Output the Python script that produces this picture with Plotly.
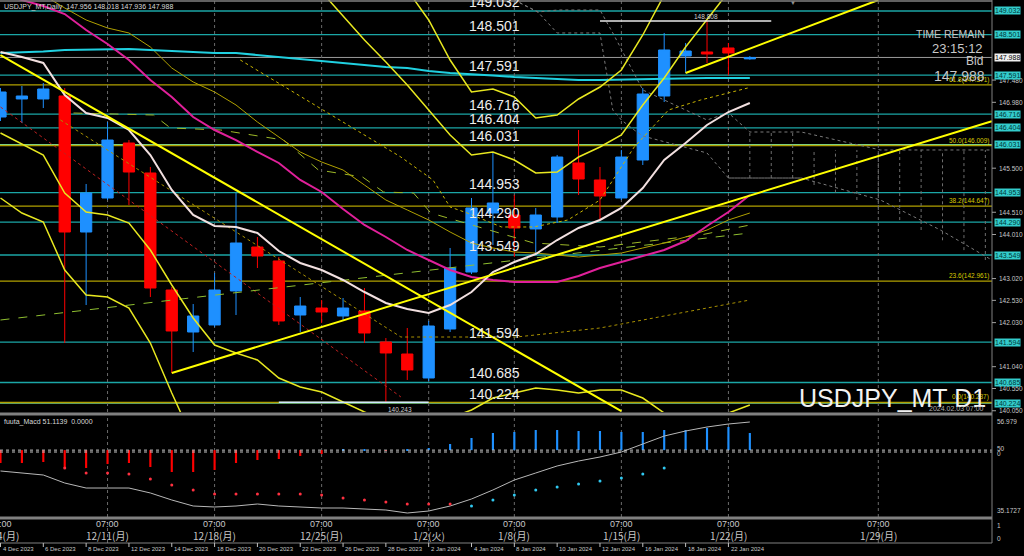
import plotly.graph_objects as go

# ---------------- data ----------------
bar_dates = ["4 Dec 2023", "5 Dec 2023", "6 Dec 2023", "7 Dec 2023", "8 Dec 2023",
             "11 Dec 2023", "12 Dec 2023", "13 Dec 2023", "14 Dec 2023", "15 Dec 2023",
             "18 Dec 2023", "19 Dec 2023", "20 Dec 2023", "21 Dec 2023", "22 Dec 2023",
             "25 Dec 2023", "26 Dec 2023", "27 Dec 2023", "28 Dec 2023", "29 Dec 2023",
             "2 Jan 2024", "3 Jan 2024", "4 Jan 2024", "5 Jan 2024", "8 Jan 2024",
             "9 Jan 2024", "10 Jan 2024", "11 Jan 2024", "12 Jan 2024", "15 Jan 2024",
             "16 Jan 2024", "17 Jan 2024", "18 Jan 2024", "19 Jan 2024", "22 Jan 2024",
             "23 Jan 2024"]

opens = [146.650, 147.055, 147.055, 147.122, 144.066, 144.830, 146.066, 145.392, 142.763, 141.819,
         141.977, 142.741, 143.729, 143.415, 142.201, 142.358, 142.179, 142.291, 141.595, 141.325,
         140.786, 141.887, 143.167, 144.493, 144.448, 144.134, 144.403, 145.617, 145.235, 144.830,
         145.684, 147.122, 148.021, 148.111, 148.201, 147.956]
highs = [147.302, 147.347, 147.414, 147.302, 145.145, 146.538, 146.133, 145.527, 142.830, 142.448,
         143.145, 144.942, 143.954, 143.504, 142.606, 142.538, 142.583, 142.808, 141.684, 141.909,
         142.067, 143.707, 144.830, 145.841, 144.897, 144.606, 145.797, 146.358, 145.527, 145.909,
         147.302, 148.538, 148.313, 148.808, 148.313, 148.018]
lows = [146.560, 146.515, 146.852, 141.572, 142.426, 144.785, 144.673, 142.606, 140.898, 141.370,
        141.932, 142.201, 143.257, 141.977, 141.819, 142.022, 142.089, 141.572, 140.243, 140.741,
        140.718, 141.819, 143.122, 143.774, 143.504, 143.549, 144.268, 144.897, 144.313, 144.785,
        145.572, 146.987, 147.639, 147.863, 147.594, 147.936]
closes = [147.212, 147.122, 147.279, 144.066, 144.942, 146.133, 145.414, 142.808, 141.842, 142.179,
          142.763, 143.819, 143.527, 142.067, 142.403, 142.269, 142.358, 141.797, 141.348, 140.966,
          141.954, 143.257, 144.606, 144.718, 144.156, 144.448, 145.751, 145.257, 144.875, 145.751,
          147.167, 148.156, 148.133, 148.066, 148.088, 147.988]

ma_long = [148.088, 148.099, 148.122, 148.156, 148.167, 148.167, 148.178, 148.156, 148.133, 148.099,
           148.088, 148.088, 148.043, 147.998, 147.953, 147.908, 147.863, 147.818, 147.774, 147.751,
           147.684, 147.639, 147.616, 147.583, 147.549, 147.526, 147.504, 147.481, 147.481, 147.493,
           147.504, 147.516, 147.526, 147.526, 147.526, 147.526]
ma_mid = [149.414, 149.279, 149.144, 148.964, 148.605, 148.290, 147.931, 147.481, 147.099, 146.650,
          146.358, 146.133, 145.864, 145.617, 145.235, 144.965, 144.583, 144.224, 143.954, 143.662,
          143.437, 143.212, 143.055, 142.988, 142.943, 142.943, 142.943, 143.078, 143.257, 143.392,
          143.527, 143.662, 143.864, 144.201, 144.516, 144.897]
ma_fast = [148.111, 147.998, 147.864, 147.144, 146.740, 146.628, 146.358, 145.796, 145.010, 144.448,
           144.201, 144.178, 144.044, 143.639, 143.370, 143.212, 142.988, 142.718, 142.471, 142.336,
           142.246, 142.426, 142.718, 143.167, 143.392, 143.572, 143.886, 144.156, 144.336, 144.606,
           145.055, 145.684, 146.066, 146.470, 146.762, 146.965]
bb_up3 = [None] * 19 + [149.504, 148.830, 147.931, 147.212, 147.279, 147.099, 146.628, 146.695,
                        147.055, 147.324, 147.706, 148.493, 149.391, None, None, None, None]
bb_up2 = [None] * 15 + [149.459, 148.920, 148.380, 147.886, 147.369, 146.807, 146.246, 145.796,
                        145.864, 145.684, 145.392, 145.414, 145.751, 145.976, 146.246, 146.920,
                        147.526, 148.223, 148.830, 149.459, None]
bb_dn2 = [146.291, 146.044, 145.796, 144.942, 144.516, 144.448, 144.268, 143.662, 142.875, 142.134,
          141.527, 141.348, 141.190, 140.786, 140.583, 140.471, 140.246, 140.022, 139.842, 139.730,
          139.662, 139.887, 140.067, 140.336, 140.449, 140.561, 140.516, 140.449, 140.516, 140.516,
          140.336, 139.999, 139.730, 139.730, 139.999, 140.179]
bb_dn3 = [144.830, 144.493, 144.291, 143.212, 142.651, 142.606, 142.358, 141.572, 140.449, 139.393] + [None] * 26
olive_ma = [None, None, 149.391, 149.099, 148.830, 148.650, 148.538, 148.223, 147.751, 147.437,
            147.212, 146.920, 146.538, 146.201, 145.864, 145.639, 145.459, 145.122, 144.785, 144.561,
            144.336, 144.066, 143.819, 143.707, 143.617, 143.594, 143.549, 143.504, 143.549, 143.594,
            143.707, 143.819, 143.954, 144.111, 144.336, 144.493]

# trend lines: (bar index, price) end points
trend_down = [(0, 148.043), (29, 140.044)]
trend_up = [(8, 140.898), (46.3, 146.554)]
trend_up_short = [(32, 147.639), (41, 149.279)]
red_dotted = [(0, 146.875), (18.7, 140.360)]
green_dashed = [(0, 142.089), (35, 144.044)]
olive_dotted_x = [2.8, 18.7, 24.1, 28, 35]
olive_dotted_y = [146.583, 141.707, 141.707, 141.909, 142.538]
yellow_dotted_x = [11.2, 18.7, 20.2, 21.0, 21.8, 23.4, 24.9, 26.5, 28.0, 29.6, 31.2, 32.7, 34.9]
yellow_dotted_y = [147.931, 145.751, 145.235, 144.628, 144.493, 144.179, 144.179, 144.336, 144.785,
                   145.976, 146.807, 147.032, 147.302]
step_dashed_x = [3.41, 7.15, 7.94, 10.28, 13.22, 14.85, 16.91, 17.89, 19.29, 20.1, 24.9, 28.0, 32.7, 35.0]
step_dashed_y = [146.740, 146.695, 146.403, 146.358, 146.133, 145.459, 145.302, 144.965, 144.942,
                 144.493, 143.819, 143.729, 143.999, 144.223]
# Ichimoku-like gray dotted cloud outline (bar index, price)
cloud_a_x = [24.0, 25.1, 26.0, 28.0, 28.6, 29.0, 29.6, 30.0, 33.0, 34.0, 37.4]
cloud_a_y = [149.279, 149.009, 148.538, 148.538, 146.807, 146.583, 146.358, 146.223, 145.841, 145.279, 145.279]
cloud_b_x = [24.0, 25.1, 26.0, 28.0, 28.6, 30.0, 33.0, 34.0, 35.0, 37.4, 41.1, 46.3]
cloud_b_y = [149.279, 149.009, 149.054, 149.054, 148.538, 147.257, 146.583, 146.740, 146.313, 146.313,
             145.909, 145.909]
cloud_c_x = [34.0, 37.4, 41.1, 43.9, 46.3]
cloud_c_y = [145.279, 145.279, 144.785, 144.111, 143.437]
shade_x = list(range(34, 47))
shade_top = [146.740, 146.313, 146.313, 146.313, 145.909, 145.909, 145.909, 145.909, 145.909, 145.909,
             145.909, 145.909, 145.909]
shade_bot = [145.279, 145.279, 145.279, 145.279, 145.122, 144.950, 144.785, 144.560, 144.335, 144.111,
             143.880, 143.660, 143.437]

level_prices = [149.032, 148.501, 147.591, 146.716, 146.404, 146.031, 144.953, 144.290, 143.549,
                141.594, 140.685, 140.224]
level_green = [146.031, 140.224]
fib_names = ["61.8", "50.0", "38.2", "23.6", "0.0"]
fib_prices = [147.371, 146.009, 144.647, 142.961, 140.237]
axis_ticks = [147.480, 146.980, 145.500, 144.510, 144.010, 143.020, 142.530, 142.030, 141.040,
              140.550, 140.050]
bid_price = 147.988
header = "USDJPY_MT,Daily  147.956 148.018 147.936 147.988"

week_bars = [0, 5, 10, 15, 20, 24, 29, 34, 41]
week_labels = ["12/4(月)", "12/11(月)", "12/18(月)", "12/25(月)", "1/2(火)", "1/8(月)",
               "1/15(月)", "1/22(月)", "1/29(月)"]

macd_hist = [46.92, 46.92, 47.15, 45.72, 45.72, 46.68, 46.92, 45.96, 44.76, 44.76, 45.24, 46.92,
             47.63, 47.87, 48.59, 49.07, 50.27, 50.27, 49.80, 50.27, 50.51, 51.47, 52.91, 54.10,
             54.34, 54.82, 54.82, 54.58, 54.58, 54.34, 54.34, 54.82, 54.82, 55.30, 55.54, 54.10]
macd_sig_red = [None, None, None, 45.72, 44.52, 44.52, 44.28, 43.08, 41.64, 40.45, 39.49, 39.49,
                39.49, 39.49, 39.49, 39.25, 38.53, 38.05, 37.57, 37.09, 37.09, 37.09] + [None] * 14
macd_sig_blue = [None] * 22 + [36.61, 38.05, 39.25, 40.45, 41.16, 41.88, 42.60, 43.32, 44.28, 45.72,
                               None, None, None, None]
macd_line = [45.00, 44.52, 44.04, 42.12, 40.92, 40.92, 40.92, 39.73, 38.05, 36.61, 36.37, 36.61,
             37.09, 36.61, 36.37, 36.13, 36.13, 35.89, 35.65, 34.93, 35.41, 36.61, 38.29, 40.45,
             42.84, 44.52, 46.20, 47.39, 48.35, 49.55, 51.47, 53.38, 54.58, 55.54, 56.26, 56.74]

# ---------------- geometry ----------------
W, H = 1024, 556
PLOT_R = 992
BAR_PX = 21.41
XMIN = -0.023
XMAX = XMIN + PLOT_R / BAR_PX
P_TOP = 149.279
P_PER_PX = 0.022469
M_TOP = 56.979 + 5 * 0.23963
M_PER_PX = 0.23963


def pyp(px):
    return 1 - px / H


def pxp(px):
    return px / W


BLUE = "#1E90FF"
RED = "#FF0000"
TEAL = "#1BA6A6"
GREEN = "#7FD07F"
OLIVE = "#B0A000"
YELLOW = "#FFFF00"
GRAY = "#808080"
TXT = "#D8D8D8"
FONT = "Liberation Sans"

xs = list(range(len(bar_dates)))
fig = go.Figure()

shapes = []
for p in level_prices:
    c = GREEN if p in level_green else TEAL
    shapes.append(dict(type="line", xref="paper", yref="y", x0=0, x1=pxp(PLOT_R), y0=p, y1=p,
                       line=dict(color=c, width=1.3), layer="below"))
for p in fib_prices:
    shapes.append(dict(type="line", xref="paper", yref="y", x0=0, x1=pxp(PLOT_R), y0=p, y1=p,
                       line=dict(color=OLIVE, width=1.2), layer="below"))
shapes.append(dict(type="line", xref="paper", yref="y", x0=0, x1=pxp(PLOT_R), y0=bid_price, y1=bid_price,
                   line=dict(color="#9A9A9A", width=1), layer="below"))
shapes.append(dict(type="line", xref="x", yref="y", x0=28, x1=36, y0=highs[33], y1=highs[33],
                   line=dict(color="#E8E8E8", width=1.5)))
shapes.append(dict(type="line", xref="x", yref="y", x0=13, x1=20, y0=lows[18], y1=lows[18],
                   line=dict(color="#CFE8FF", width=1.5)))

for b in week_bars[1:]:
    for (a, z) in [(0, 412), (416, 517), (519, 543)]:
        shapes.append(dict(type="line", xref="x", yref="paper", x0=b, x1=b, y0=pyp(z), y1=pyp(a),
                           line=dict(color="#6A6A6A", width=1, dash="dot"), layer="below"))

for b, t, u in zip(shade_x, shade_top, shade_bot):
    shapes.append(dict(type="line", xref="x", yref="y", x0=b, x1=b, y0=u, y1=t,
                       line=dict(color="#6E6E6E", width=1, dash="dot"), layer="below"))


def seg(xv, yv, color, width, dash="solid"):
    fig.add_trace(go.Scatter(x=xv, y=yv, mode="lines", line=dict(color=color, width=width, dash=dash),
                             hoverinfo="skip", showlegend=False))


seg(cloud_a_x, cloud_a_y, "#7A7A7A", 1, "dot")
seg(cloud_b_x, cloud_b_y, "#7A7A7A", 1, "dot")
seg(cloud_c_x, cloud_c_y, "#7A7A7A", 1, "dot")
seg([p[0] for p in red_dotted], [p[1] for p in red_dotted], "#C02020", 1, "dot")
seg([p[0] for p in green_dashed], [p[1] for p in green_dashed], "#8FBF30", 1, "dash")
seg(step_dashed_x, step_dashed_y, "#9DB828", 1, "dash")
seg(olive_dotted_x, olive_dotted_y, "#A89000", 1, "dot")
seg(yellow_dotted_x, yellow_dotted_y, "#C8B400", 1, "dot")
seg(xs, olive_ma, OLIVE, 1)

seg(xs, ma_long, "#20D0E0", 2)
seg(xs, ma_mid, "#E0209A", 2)
seg(xs, ma_fast, "#F2E0E0", 2)
for band in (bb_up3, bb_up2, bb_dn2, bb_dn3):
    seg(xs, band, "#E8E820", 1.5)

seg([p[0] for p in trend_down], [p[1] for p in trend_down], YELLOW, 2)
seg([p[0] for p in trend_up], [p[1] for p in trend_up], YELLOW, 2)
seg([p[0] for p in trend_up_short], [p[1] for p in trend_up_short], YELLOW, 2)

fig.add_trace(go.Candlestick(
    x=xs, open=opens, high=highs, low=lows, close=closes,
    increasing=dict(line=dict(color=BLUE, width=1), fillcolor=BLUE),
    decreasing=dict(line=dict(color=RED, width=1), fillcolor=RED),
    whiskerwidth=0, showlegend=False, hoverinfo="skip"))

# MACD panel
hist_base = 50.0
fig.add_trace(go.Bar(x=xs, y=[v - hist_base for v in macd_hist], base=hist_base, width=0.1,
                     marker=dict(color=[BLUE if v >= hist_base else RED for v in macd_hist], line=dict(width=0)),
                     yaxis="y2", hoverinfo="skip", showlegend=False))
fig.add_trace(go.Scatter(x=xs, y=macd_line, mode="lines", line=dict(color="#B8B8B8", width=1),
                         yaxis="y2", hoverinfo="skip", showlegend=False))
fig.add_trace(go.Scatter(x=xs, y=macd_sig_red, mode="markers", marker=dict(color="#FF3040", size=3),
                         yaxis="y2", hoverinfo="skip", showlegend=False))
fig.add_trace(go.Scatter(x=xs, y=macd_sig_blue, mode="markers", marker=dict(color="#30C8F0", size=3),
                         yaxis="y2", hoverinfo="skip", showlegend=False))
for v in (50.0, 49.55):
    shapes.append(dict(type="line", xref="paper", yref="y2", x0=0, x1=pxp(PLOT_R), y0=v, y1=v,
                       line=dict(color="#C8C8C8", width=1, dash="dot")))

# frame / separators
shapes.append(dict(type="line", xref="paper", yref="paper", x0=0, x1=pxp(PLOT_R), y0=pyp(1), y1=pyp(1),
                   line=dict(color=GRAY, width=1.5)))
for yy in (414, 518):
    shapes.append(dict(type="line", xref="paper", yref="paper", x0=0, x1=pxp(PLOT_R), y0=pyp(yy), y1=pyp(yy),
                       line=dict(color=GRAY, width=3)))
shapes.append(dict(type="line", xref="paper", yref="paper", x0=0, x1=pxp(PLOT_R), y0=pyp(543), y1=pyp(543),
                   line=dict(color=GRAY, width=1)))
shapes.append(dict(type="line", xref="paper", yref="paper", x0=pxp(PLOT_R), x1=pxp(PLOT_R), y0=pyp(543), y1=1,
                   line=dict(color=GRAY, width=1)))

ann = []


def text(x, y, s, size, color=TXT, xanchor="left", yanchor="middle", xref="paper", yref="paper",
         bg=None, font=FONT):
    d = dict(x=x, y=y, text=s, xref=xref, yref=yref, xanchor=xanchor, yanchor=yanchor, showarrow=False,
             font=dict(family=font, size=size, color=color), borderpad=0)
    if bg:
        d["bgcolor"] = bg
    ann.append(d)


text(pxp(3), pyp(7), header, 7)
for p in level_prices:
    text(pxp(468), p, f"{p:.3f}", 14, color="#EDEDED", yanchor="bottom", yref="y")
for n, p in zip(fib_names, fib_prices):
    text(pxp(990), p, f"{n}({p:.3f})", 6.5, color="#D8C800", xanchor="right", yanchor="bottom", yref="y")
for p in axis_ticks:
    text(pxp(998), p, f"{p:.3f}", 6.5, color="#C8C8C8", yref="y")
    shapes.append(dict(type="line", xref="paper", yref="y", x0=pxp(PLOT_R), x1=pxp(PLOT_R + 4), y0=p, y1=p,
                       line=dict(color="#A0A0A0", width=1)))
for p in level_prices:
    text(pxp(994), p, f"{p:.3f}", 7, color="#003838", yref="y", bg="#33CCCC")
text(pxp(994), bid_price, f"{bid_price:.3f}", 7, color="#000000", yref="y", bg="#F0F0F0")
text(pxp(706), highs[33], f"{highs[33]:.3f}", 6.5, color="#D0D0D0", xanchor="center", yanchor="bottom",
     yref="y")
text(pxp(400), pyp(409), f"{lows[18]:.3f}", 6.5, color="#D0D0D0", xanchor="center")
text(pxp(793), pyp(3), "▼", 6, color="#909090", xanchor="center")

text(pxp(986), pyp(34), "TIME REMAIN", 10.5, color="#C8C8C8", xanchor="right")
text(pxp(984), pyp(48), "23:15:12", 13, color="#C8C8C8", xanchor="right")
text(pxp(984), pyp(61), "Bid", 12, color="#C8C8C8", xanchor="right")
text(pxp(986), pyp(76), f"{bid_price:.3f}", 14, color="#C8C8C8", xanchor="right")
text(pxp(987), pyp(398), "USDJPY_MT D1", 25, color="#F2F2F2", xanchor="right")
text(pxp(985), pyp(408), "2024.02.03 07:00", 7, color="#B0B0B0", xanchor="right")

text(pxp(3), pyp(422), "fuuta_Macd 51.1139  0.0000", 7)
text(pxp(996), pyp(421), "56.979", 6.5, color="#C8C8C8")
text(pxp(996), pyp(448), "50", 6.5, color="#C8C8C8")
text(pxp(996), pyp(453), "0", 6.5, color="#C8C8C8")
text(pxp(996), pyp(511), "35.1727", 6.5, color="#C8C8C8")
text(pxp(996), pyp(525), "1", 6.5, color="#C8C8C8")
text(pxp(996), pyp(538), "0", 6.5, color="#C8C8C8")

for b, lab in zip(week_bars, week_labels):
    text(b, pyp(524), "07:00", 9, color="#C8C8C8", xanchor="center", xref="x")
    text(b, pyp(535), lab, 10, color="#C8C8C8", xanchor="center", xref="x", font="Noto Sans CJK JP")
for i in range(0, len(bar_dates), 2):
    text(i + 0.05, pyp(549), bar_dates[i], 6, color="#C8C8C8", xref="x")
    shapes.append(dict(type="line", xref="x", yref="paper", x0=i, x1=i, y0=pyp(547), y1=pyp(543),
                       line=dict(color="#C0C0C0", width=1)))

fig.update_layout(
    width=W, height=H, margin=dict(l=0, r=0, t=0, b=0),
    paper_bgcolor="#000000", plot_bgcolor="#000000",
    showlegend=False, hovermode=False, boxgap=0.25,
    xaxis=dict(domain=[0, pxp(PLOT_R)], range=[XMIN, XMAX], visible=False, rangeslider=dict(visible=False),
               fixedrange=True),
    yaxis=dict(domain=[pyp(412), 1], range=[P_TOP - 412 * P_PER_PX, P_TOP], visible=False, fixedrange=True),
    yaxis2=dict(domain=[pyp(517), pyp(416)], range=[M_TOP - 101 * M_PER_PX, M_TOP], anchor="x",
                visible=False, fixedrange=True),
    yaxis3=dict(domain=[pyp(543), pyp(519)], range=[-0.385, 1.46], anchor="x", visible=False,
                fixedrange=True),
    shapes=shapes, annotations=ann,
)
fig.write_html("out.html", config={"displayModeBar": False},
               post_script="document.body.style.margin='0';document.body.style.padding='0';"
                           "document.body.style.background='#000';document.body.style.overflow='hidden';")
